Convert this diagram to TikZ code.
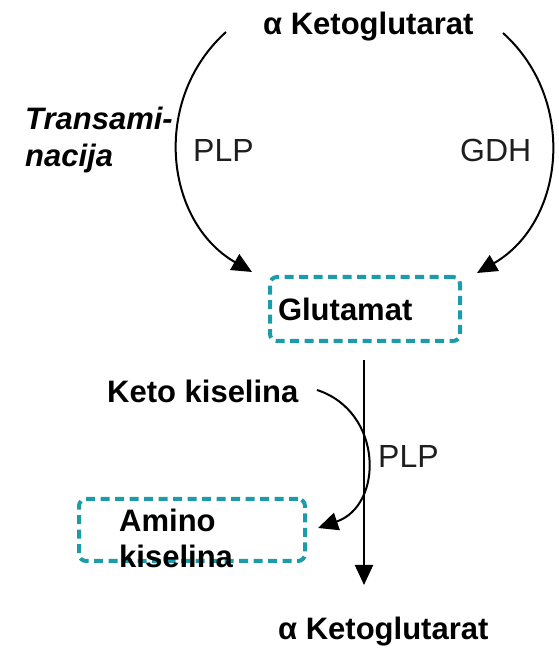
\documentclass[tikz,border=0pt]{standalone}
\usepackage{fontspec}
\setmainfont{Liberation Sans}
\usetikzlibrary{arrows.meta}
\definecolor{tealdash}{RGB}{28,156,170}
\definecolor{labelgray}{RGB}{30,30,30}
\begin{document}
\begin{tikzpicture}[x=1pt,y=1pt,
  txt/.style={inner sep=0pt, anchor=base west},
  boldtxt/.style={txt, font=\fontsize{31}{36}\selectfont\bfseries},
  enz/.style={txt, text=labelgray, font=\fontsize{32}{38}\selectfont},
  tealbox/.style={draw=tealdash, line width=4pt, dash pattern=on 9pt off 5.5pt, rounded corners=7pt},
  arr/.style={line width=2pt, -{Triangle[length=20pt,width=18pt]}}
]
\useasboundingbox (0,0) rectangle (559,650);
% texts
\node[boldtxt] (kt) at (263,615) {α Ketoglutarat};
\node[boldtxt] (kb) at (278,10) {α Ketoglutarat};
\node[txt, align=left, font=\fontsize{31}{37}\selectfont\bfseries\itshape] (trans) at (25,483) {Transami-\\nacija};
\node[enz] (plp1) at (193,488) {PLP};
\node[enz] (gdh) at (460,488) {GDH};
\node[enz] (plp2) at (378,182) {PLP};
\node[boldtxt] (kk) at (107,247) {Keto kiselina};
% boxes
\node[tealbox, minimum width=190pt, minimum height=64pt, text width=174pt, inner xsep=8pt, inner ysep=0pt, align=left,
      font=\fontsize{31}{36}\selectfont\bfseries] (glu) at (365,341) {Glutamat};
\node[tealbox, minimum width=226pt, minimum height=62pt, inner sep=0pt] (amino) at (192,120) {};
\node[boldtxt, align=left] (aminotxt) at (119,82) {Amino\\kiselina};
% connector end points
\coordinate (l1) at (226,618);
\coordinate (l2) at (252,378);
\coordinate (r1) at (503,617);
\coordinate (r2) at (477,377);
\coordinate (s1) at (317,260);
\coordinate (s2) at (318,122);
\coordinate (v1) at (364,290);
\coordinate (v2) at (364,65);
% connectors
\draw[arr] (l1) to[out=222,in=150,looseness=1.07] (l2);
\draw[arr] (r1) to[out=-42,in=30,looseness=1.07] (r2);
\draw[arr] (v1) -- (v2);
\draw[arr] (s1) to[out=-18,in=19,looseness=1.29] (s2);
\end{tikzpicture}
\end{document}
